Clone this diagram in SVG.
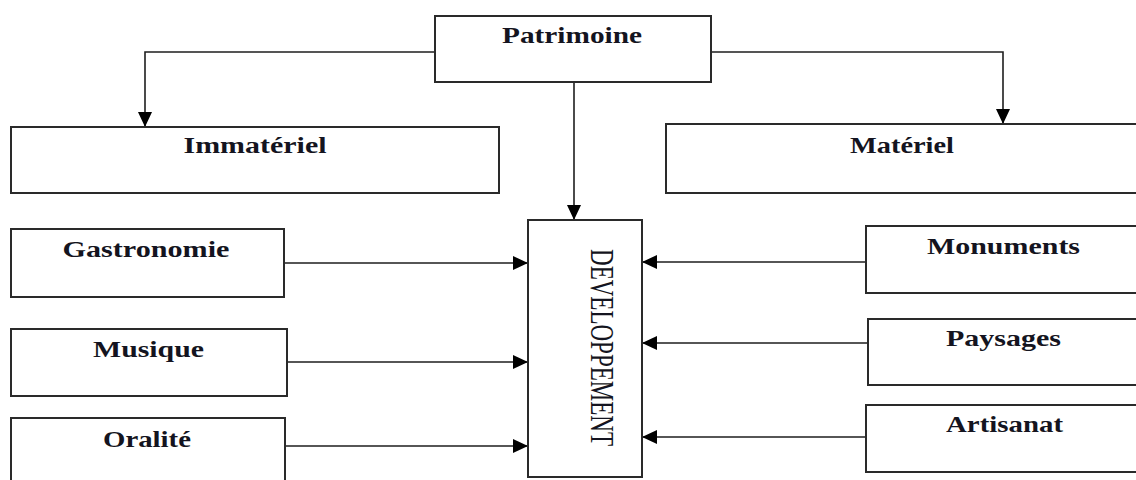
<svg xmlns="http://www.w3.org/2000/svg" width="1136" height="480" viewBox="0 0 1136 480">
  <style>
    .box { fill: #ffffff; stroke: #2a2a2a; stroke-width: 2; }
    .lbl { font-family: "Liberation Serif", "Times New Roman", serif; font-size: 23px; font-weight: bold; fill: #141420; text-anchor: middle; }
    .vlbl { font-family: "Liberation Serif", "Times New Roman", serif; font-size: 23px; fill: #141420; text-anchor: middle; }
    .edge { fill: none; stroke: #1e1e1e; stroke-width: 1.6; marker-end: url(#arrow); }
  </style>
  <defs>
    <marker id="arrow" markerUnits="userSpaceOnUse" markerWidth="15" markerHeight="14" viewBox="0 0 15 14" refX="15" refY="7" orient="auto">
      <path d="M0,0 L15,7 L0,14 Z" fill="#000000"/>
    </marker>
  </defs>

  <rect width="1136" height="480" fill="#ffffff"/>

  <!-- connectors -->
  <g id="connectors">
    <path class="edge" d="M435,52 H145 V127"/>
    <path class="edge" d="M711,52 H1003 V124"/>
    <path class="edge" d="M574,82 V220"/>
    <path class="edge" d="M284,263 H528"/>
    <path class="edge" d="M287,362 H528"/>
    <path class="edge" d="M285,446 H528"/>
    <path class="edge" d="M866,262 H642"/>
    <path class="edge" d="M868,343 H642"/>
    <path class="edge" d="M866,437 H642"/>
  </g>

  <!-- top node -->
  <g id="patrimoine">
    <rect class="box" x="435" y="16" width="276" height="66"/>
    <text class="lbl" x="572" y="43" textLength="140" lengthAdjust="spacingAndGlyphs">Patrimoine</text>
  </g>

  <!-- categories -->
  <g id="immateriel">
    <rect class="box" x="11" y="127" width="488" height="66"/>
    <text class="lbl" x="255" y="153" textLength="143" lengthAdjust="spacingAndGlyphs">Immatériel</text>
  </g>
  <g id="materiel">
    <rect class="box" x="666" y="124" width="474" height="69"/>
    <text class="lbl" x="902" y="153" textLength="104" lengthAdjust="spacingAndGlyphs">Matériel</text>
  </g>

  <!-- intangible items -->
  <g id="gastronomie">
    <rect class="box" x="11" y="229" width="273" height="68"/>
    <text class="lbl" x="146" y="257" textLength="167" lengthAdjust="spacingAndGlyphs">Gastronomie</text>
  </g>
  <g id="musique">
    <rect class="box" x="11" y="329" width="276" height="67"/>
    <text class="lbl" x="148.5" y="357" textLength="111" lengthAdjust="spacingAndGlyphs">Musique</text>
  </g>
  <g id="oralite">
    <rect class="box" x="11" y="418" width="274" height="70"/>
    <text class="lbl" x="147" y="447" textLength="88" lengthAdjust="spacingAndGlyphs">Oralité</text>
  </g>

  <!-- central node -->
  <g id="developpement">
    <rect class="box" x="528" y="220" width="114" height="257"/>
    <text class="vlbl" transform="translate(591,347.5) rotate(90) scale(1,1.5)" x="0" y="0" textLength="197" lengthAdjust="spacingAndGlyphs">DEVELOPPEMENT</text>
  </g>

  <!-- tangible items -->
  <g id="monuments">
    <rect class="box" x="866" y="226" width="274" height="67"/>
    <text class="lbl" x="1003.5" y="254" textLength="153" lengthAdjust="spacingAndGlyphs">Monuments</text>
  </g>
  <g id="paysages">
    <rect class="box" x="868" y="319" width="272" height="66"/>
    <text class="lbl" x="1003.5" y="346" textLength="115" lengthAdjust="spacingAndGlyphs">Paysages</text>
  </g>
  <g id="artisanat">
    <rect class="box" x="866" y="405" width="274" height="67"/>
    <text class="lbl" x="1004.5" y="432" textLength="117" lengthAdjust="spacingAndGlyphs">Artisanat</text>
  </g>
</svg>
